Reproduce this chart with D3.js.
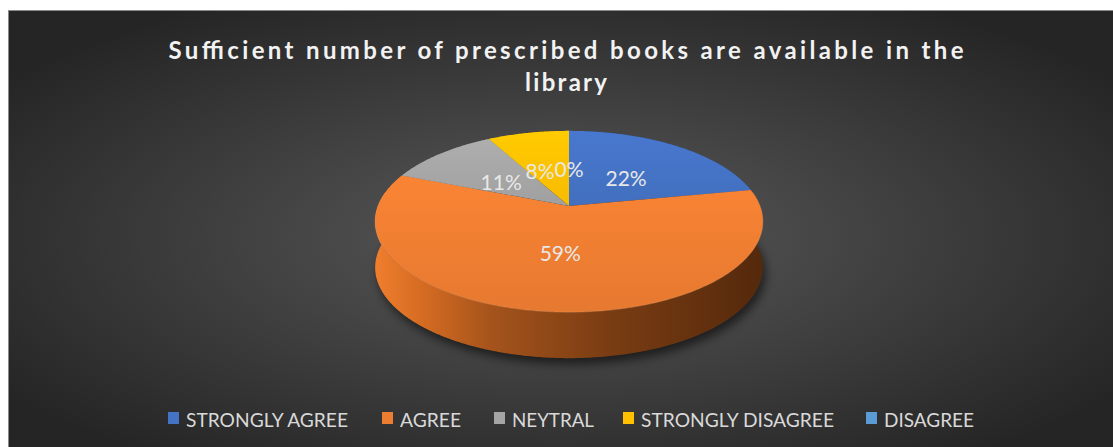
<!DOCTYPE html>
<html>
<head>
<meta charset="utf-8">
<script src="https://cdn.jsdelivr.net/npm/d3@7"></script>
<style>
html,body{margin:0;padding:0;background:#fff;}
svg{display:block;}
</style>
</head>
<body>
<script>
// ---- data ----
const categories = ["STRONGLY AGREE", "AGREE", "NEYTRAL", "STRONGLY DISAGREE", "DISAGREE"];
const values = [22, 59, 11, 8, 0];
const labels = ["22%", "59%", "11%", "8%", "0%"];
const colors = ["#4472C4", "#ED7D31", "#A5A5A5", "#FFC000", "#5B9BD5"];
const titleLines = ["Sufficient number of prescribed books are available in the", "library"];

const W = 1113, H = 447;
const FONT = "Lato, 'Open Sans', 'DejaVu Sans', sans-serif";
const svg = d3.select("body").append("svg").attr("width", W).attr("height", H);
const defs = svg.append("defs");

// background
const bg = defs.append("radialGradient").attr("id", "bg").attr("cx", "50%").attr("cy", "52%").attr("r", "62%");
bg.append("stop").attr("offset", "0%").attr("stop-color", "#5a5a5a");
bg.append("stop").attr("offset", "100%").attr("stop-color", "#252525");
svg.append("rect").attr("x", 8.5).attr("y", 10.5).attr("width", W - 8).attr("height", H - 10)
  .attr("fill", "url(#bg)").attr("stroke", "#8a8a8a").attr("stroke-width", 1);

// title
const title = svg.append("g").attr("font-family", FONT)
  .attr("font-weight", "bold").attr("fill", "#f2f2f2").attr("text-anchor", "middle");
title.append("text").attr("x", 566).attr("y", 59).attr("font-size", 24)
  .attr("textLength", 795).attr("lengthAdjust", "spacing").text(titleLines[0]);
title.append("text").attr("x", 566).attr("y", 91).attr("font-size", 24)
  .attr("textLength", 82).attr("lengthAdjust", "spacing").text(titleLines[1]);

// ---- 3D pie with perspective ----
const cx = 569, cy = 206, a = 88, b = 191, k = 0.171, depth = 46;
function P(theta, r = 1, dz = 0) {
  const u = r * Math.sin(theta), v = -r * Math.cos(theta);
  const s = 1 / (1 - k * v);
  return [cx + b * u * s, cy + a * v * s + dz];
}
const pie = d3.pie().sort(null).value(d => d);
const arcs = pie(values);
function arcPts(a0, a1, r = 1, dz = 0) {
  const n = Math.max(2, Math.ceil((a1 - a0) / 0.01));
  return d3.range(n + 1).map(i => P(a0 + (a1 - a0) * i / n, r, dz));
}
const line = d3.line();

// shadow
const sh = defs.append("filter").attr("id", "sh").attr("x", "-20%").attr("y", "-40%").attr("width", "140%").attr("height", "180%");
sh.append("feGaussianBlur").attr("stdDeviation", 5);
svg.append("path")
  .attr("d", line(arcPts(0, 2 * Math.PI, 1.0, depth + 4)) + "Z")
  .attr("fill", "#000").attr("opacity", 0.55).attr("filter", "url(#sh)")
  .attr("transform", "translate(3,2)");

// side gradient
const sg = defs.append("linearGradient").attr("id", "side").attr("gradientUnits", "userSpaceOnUse")
  .attr("x1", cx - b).attr("x2", cx + b).attr("y1", 0).attr("y2", 0);
[[0, "#EE7D2D"], [0.12, "#D46B22"], [0.3, "#A4531B"], [0.6, "#7A3D13"], [1, "#55290C"]]
  .forEach(([o, c]) => sg.append("stop").attr("offset", o).attr("stop-color", c));

// walls (tops drawn later cover the back)
arcs.forEach((d, i) => {
  if (d.endAngle - d.startAngle <= 0) return;
  const top = arcPts(d.startAngle, d.endAngle, 1, 0);
  const bot = arcPts(d.startAngle, d.endAngle, 1, depth).reverse();
  svg.append("path").attr("d", line(top.concat(bot)) + "Z")
    .attr("fill", i === 1 ? "url(#side)" : d3.color(colors[i]).darker(1.2));
});

// top faces
colors.forEach((c, i) => {
  const g = defs.append("linearGradient").attr("id", "top" + i).attr("x1", 0).attr("y1", 0).attr("x2", 0).attr("y2", 1);
  g.append("stop").attr("offset", "0%").attr("stop-color", d3.color(c).brighter(0.15));
  g.append("stop").attr("offset", "100%").attr("stop-color", d3.color(c).darker(0.08));
});
arcs.forEach((d, i) => {
  if (d.endAngle - d.startAngle <= 0) return;
  const pts = [[cx, cy]].concat(arcPts(d.startAngle, d.endAngle));
  svg.append("path").attr("d", line(pts) + "Z").attr("fill", `url(#top${i})`);
});
svg.append("path").attr("d", line(arcPts(Math.PI * 0.45, Math.PI * 1.55)))
  .attr("fill", "none").attr("stroke", "#f7a060").attr("stroke-opacity", 0.35).attr("stroke-width", 1);

// data labels
const lab = svg.append("g").attr("font-family", FONT)
  .attr("font-size", 21).attr("fill", "#e8e8e8").attr("text-anchor", "middle");
arcs.forEach((d, i) => {
  const mid = (d.startAngle + d.endAngle) / 2;
  const r = values[i] > 30 ? 0.45 : 0.5;
  let [x, y] = P(mid, r);
  if (i === 3) x -= 7;
  lab.append("text").attr("x", x).attr("y", y + 12).text(labels[i]);
});

// legend
const legendX = [168, 382, 494, 623, 866];
const legendW = [162, 61, 82, 193, 90];
const lg = svg.append("g").attr("font-family", FONT)
  .attr("font-size", 19).attr("fill", "#d9d9d9");
categories.forEach((c, i) => {
  lg.append("rect").attr("x", legendX[i]).attr("y", 412).attr("width", 11).attr("height", 12).attr("fill", colors[i]);
  lg.append("text").attr("x", legendX[i] + 18).attr("y", 427)
    .attr("textLength", legendW[i]).attr("lengthAdjust", "spacingAndGlyphs").text(c);
});
</script>
</body>
</html>
